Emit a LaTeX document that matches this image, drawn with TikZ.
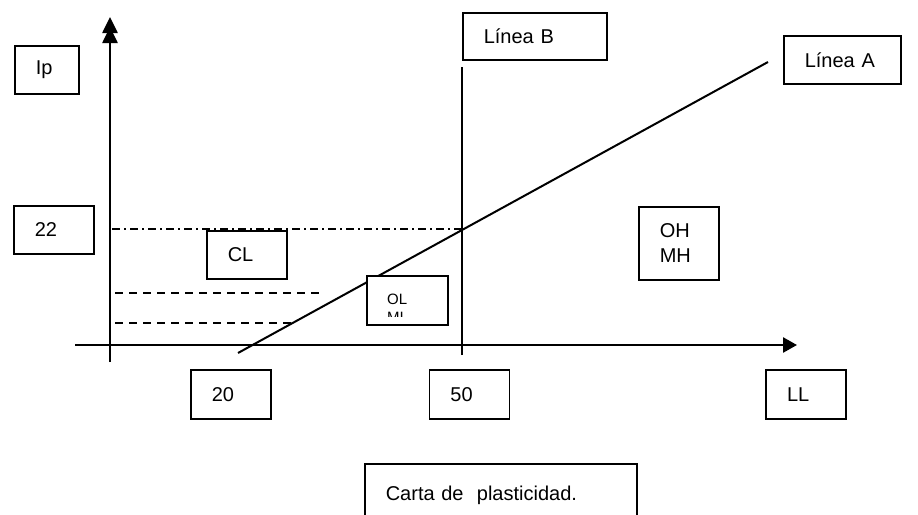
\documentclass[tikz,border=0pt]{standalone}
\usepackage{fontspec}
\setmainfont{Liberation Sans}
\usetikzlibrary{arrows.meta, positioning}

\begin{document}
\begin{tikzpicture}[
    x=1pt, y=-1pt,
    box/.style={draw, line width=1.6pt, anchor=north west, inner xsep=21pt, inner ysep=0pt, align=left, font=\fontsize{20}{25}\selectfont},
    axis/.style={line width=2.6pt},
    plain/.style={line width=2pt},
    guide/.style={line width=1.6pt, dash pattern=on 8pt off 6pt},
    limit/.style={line width=1.4pt, dash pattern=on 8pt off 4pt on 2pt off 4pt}
]
    \useasboundingbox (0,0) rectangle (918,514);

    \coordinate (yfoot) at (110,362);
    \coordinate (ytop) at (110,17);
    \coordinate (xfoot) at (75,345);
    \coordinate (xtop) at (797,345);
    \coordinate (bfoot) at (462,355);
    \coordinate (btop) at (462,67);
    \coordinate (afoot) at (238,353);
    \coordinate (atop) at (768,62);

    % axes
    \draw[axis, -{Triangle[width=15pt,length=16pt,sep=-6pt]Triangle[width=15pt,length=16pt]}] (yfoot) -- (ytop);
    \draw[axis, -{Triangle[width=15pt,length=14pt]}] (xfoot) -- (xtop);

    % lines A and B
    \draw[plain] (bfoot) -- (btop);
    \draw[plain] (afoot) -- (atop);

    % labels
    \node[box, text width=22pt, minimum height=48pt] (ip) at (14,45) {Ip};
    \node[box, text width=38pt, minimum height=48pt] (v22) at (13,205) {22};
    \node[box, text width=38pt, minimum height=48pt] (cl) at (206,230) {CL};
    \node[box, text width=38pt, minimum height=73pt] (ohmh) at (638,206) {OH\\MH};
    \node[box, text width=102pt, minimum height=47pt] (lineaB) at (462,12) {L\'inea B};
    \node[box, text width=75pt, minimum height=48pt] (lineaA) at (783,35) {L\'inea A};
    \node[box, text width=38pt, minimum height=49pt] (x20) at (190,369) {20};
    \node[box, text width=38pt, minimum height=49pt, right=157pt of x20] (x50) {50};
    \node[box, text width=38pt, minimum height=49pt, right=255pt of x50] (ll) {LL};
    \node[box, text width=230pt, minimum height=64pt] (carta) at (364,463) {Carta de~ plasticidad.};

    \coordinate (lim22) at (112,229);
    \coordinate (cross) at (462,229);
    \coordinate (g1a) at (115,293);
    \coordinate (g1b) at (320,293);
    \coordinate (g2a) at (115,323);
    \coordinate (g2b) at (293,323);
    \draw[limit] (lim22) -- (cross);
    \draw[guide] (g1a) -- (g1b);
    \draw[guide] (g2a) -- (g2b);

    \node[box, fill=white, text width=39pt, minimum height=49pt] (ol) at (366,275) {};
    \begin{scope}
        \clip (ol.north west) rectangle ([yshift=9pt]ol.south east);
        \node[anchor=base west, inner sep=0pt, font=\fontsize{15}{17}\selectfont] (oltxt) at (387,304) {OL};
        \node[anchor=base west, inner sep=0pt, font=\fontsize{15}{17}\selectfont] (mitxt) at (387,322) {MI};
    \end{scope}
\end{tikzpicture}
\end{document}
